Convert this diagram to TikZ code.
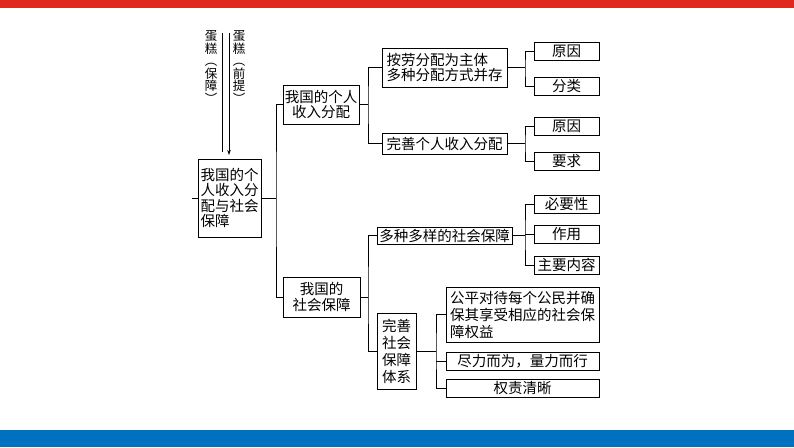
\documentclass[tikz,border=0pt]{standalone}
\usepackage{fontspec}
\newfontfamily\cjk{Noto Sans CJK SC}
\usetikzlibrary{arrows.meta}
\definecolor{topred}{HTML}{E0281E}
\definecolor{botblue}{HTML}{0070C0}
\begin{document}
\begin{tikzpicture}[x=1pt,y=-1pt,
  box/.style={draw, line width=0.8pt, inner sep=0pt, anchor=center,
    font=\cjk\fontsize{14.5}{15.5}\selectfont},
  conn/.style={line width=0.8pt},
  vlabel/.style={inner sep=0pt, align=center, font=\cjk\fontsize{12.5}{12.5}\selectfont}]
\useasboundingbox (0,0) rectangle (794,447);
\fill[white] (0,0) rectangle (794,447);
\fill[topred] (0,0) rectangle (794,8);
\fill[botblue] (0,430) rectangle (794,447);

% nodes
\node[box, minimum width=63pt, minimum height=78pt, align=left] (main) at (229.5,198)
  {我国的个\\人收入分\\配与社会\\保障};
\node[box, minimum width=76pt, minimum height=39pt, align=center] (inc) at (321,104.5)
  {我国的个人\\收入分配};
\node[box, minimum width=77pt, minimum height=40pt, align=center] (soc) at (321.5,297)
  {我国的\\社会保障};
\node[box, minimum width=125pt, minimum height=39pt, align=left] (a1) at (444.5,67.5)
  {按劳分配为主体\\多种分配方式并存};
\node[box, minimum width=125pt, minimum height=21pt] (a2) at (444.5,143.5)
  {完善个人收入分配};
\node[box, minimum width=65pt, minimum height=18pt] (b1) at (566.5,51) {原因};
\node[box, minimum width=65pt, minimum height=18pt] (b2) at (566.5,86) {分类};
\node[box, minimum width=65pt, minimum height=18pt] (b3) at (566.5,126) {原因};
\node[box, minimum width=65pt, minimum height=18pt] (b4) at (566.5,161) {要求};
\node[box, minimum width=135pt, minimum height=17pt] (c1) at (444.5,235.5)
  {多种多样的社会保障};
\node[box, minimum width=65pt, minimum height=18pt] (d1) at (566.5,204) {必要性};
\node[box, minimum width=65pt, minimum height=18pt] (d2) at (566.5,234) {作用};
\node[box, minimum width=65pt, minimum height=18pt] (d3) at (566.5,265) {主要内容};
\node[box, minimum width=39pt, minimum height=76pt, align=center,
  font=\cjk\fontsize{14.5}{17}\selectfont] (c2) at (396.5,351)
  {完善\\社会\\保障\\体系};
\node[box, minimum width=153pt, minimum height=55pt, align=left,
  font=\cjk\fontsize{14.5}{17}\selectfont] (e1) at (522.5,314.5)
  {公平对待每个公民并确\\保其享受相应的社会保\\障权益};
\node[box, minimum width=153pt, minimum height=18pt] (e2) at (522.5,361)
  {尽力而为，量力而行};
\node[box, minimum width=153pt, minimum height=18pt] (e3) at (522.5,388)
  {权责清晰};

% vertical labels and lines
\node[vlabel] (lb1) at (211,67) {蛋\\糕\\︵\\保\\障\\︶};
\node[vlabel] (lb2) at (239,67) {蛋\\糕\\︵\\前\\提\\︶};
\coordinate (l1a) at (222,33);
\coordinate (l1b) at (222,152);
\coordinate (l2a) at (229,33);
\coordinate (l2b) at (229,155);
\draw[line width=0.7pt] (l1a) -- (l1b);
\draw[line width=0.7pt, -{Stealth[length=5pt,width=3.5pt]}] (l2a) -- (l2b);

% connectors
\coordinate (s0) at (192,198);
\draw[conn] (s0) -- (main.west);
\coordinate (j1) at (276,198);
\draw[conn] (main.east) -- (j1);
\draw[conn] (inc.west) -| (j1) |- (soc.west);

\coordinate (j2) at (368,104.5);
\draw[conn] (inc.east) -- (j2);
\draw[conn] (a1.west) -| (j2) |- (a2.west);

\coordinate (j3) at (368,297);
\draw[conn] (soc.east) -- (j3);
\draw[conn] (c1.west) -| (j3) |- (c2.west);

\coordinate (j4) at (525,67.5);
\draw[conn] (a1.east) -- (j4);
\draw[conn] (b1.west) -| (j4) |- (b2.west);

\coordinate (j5) at (525,143.5);
\draw[conn] (a2.east) -- (j5);
\draw[conn] (b3.west) -| (j5) |- (b4.west);

\coordinate (j6) at (525,235.5);
\draw[conn] (c1.east) -- (j6);
\draw[conn] (d1.west) -| (j6) |- (d3.west);
\draw[conn] (d2.west) -- (d2.west -| j6);

\coordinate (j7) at (436,351);
\draw[conn] (c2.east) -- (j7);
\draw[conn] (e1.west) -| (j7) |- (e3.west);
\draw[conn] (e2.west) -- (e2.west -| j7);
\end{tikzpicture}
\end{document}
